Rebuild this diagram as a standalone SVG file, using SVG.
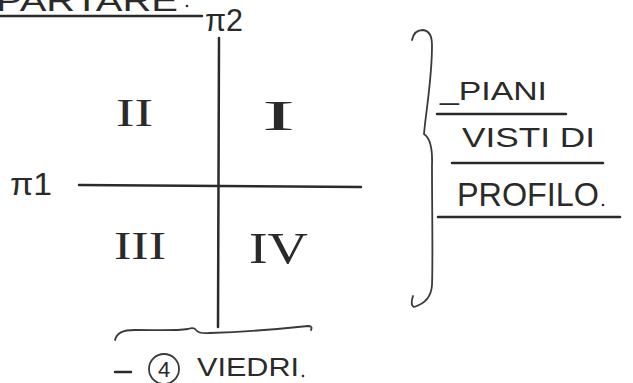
<svg xmlns="http://www.w3.org/2000/svg" width="633" height="383" viewBox="0 0 633 383">
<style>
.hand{font-family:"Liberation Sans","DejaVu Sans",sans-serif;fill:#2a2a2a;}
.rom{font-family:"Liberation Serif","DejaVu Serif",serif;fill:#2a2a2a;}
.ln{stroke:#2a2a2a;stroke-width:2.5;fill:none;stroke-linecap:round;}
.thin{stroke:#3a3a3a;stroke-width:1.8;fill:none;stroke-linecap:round;}
</style>
<rect width="633" height="383" fill="#fff"/>
<g id="title">
<text class="hand" x="-4" y="11" font-size="30" textLength="182" lengthAdjust="spacingAndGlyphs">PARTARE</text>
<circle cx="187" cy="6" r="1.3" fill="#2a2a2a"/>
<line class="ln" x1="0" y1="16" x2="202" y2="16"/>
</g>
<g id="pi2"><text class="hand" x="205" y="31" font-size="32" textLength="38" lengthAdjust="spacingAndGlyphs">π2</text></g>
<g id="pi1"><text class="hand" x="10" y="195" font-size="32" textLength="42" lengthAdjust="spacingAndGlyphs">π1</text></g>
<g id="axes">
<line class="ln" x1="219" y1="38" x2="218" y2="327"/>
<line class="ln" x1="79" y1="185" x2="361" y2="187"/>
</g>
<g id="q2"><text class="rom" x="116" y="126" font-size="41" textLength="37" lengthAdjust="spacingAndGlyphs">II</text></g>
<g id="q1"><text class="rom" x="262" y="130" font-size="42" textLength="33" lengthAdjust="spacingAndGlyphs">I</text></g>
<g id="q3"><text class="rom" x="114" y="259" font-size="40" textLength="52" lengthAdjust="spacingAndGlyphs">III</text></g>
<g id="q4"><text class="rom" x="249" y="263" font-size="45" textLength="59" lengthAdjust="spacingAndGlyphs">IV</text></g>
<g id="bracebottom">
<path class="thin" d="M115 340 C117 333 122 330 135 330 C160 330 175 331 188 329 Q194 327 196 330 Q199 334 210 333 C240 332 280 329 308 326 Q313 326 311 330"/>
</g>
<g id="diedri">
<line class="ln" x1="115" y1="372" x2="131" y2="372"/>
<circle class="thin" cx="164" cy="369" r="15"/>
<text class="hand" x="164" y="377" font-size="22" text-anchor="middle">4</text>
<text class="hand" x="197" y="376" font-size="25" textLength="102" lengthAdjust="spacingAndGlyphs">VIEDRI</text>
<circle cx="303" cy="376" r="1.3" fill="#2a2a2a"/>
</g>
<g id="braceright">
<path class="thin" d="M412 40 Q414 30 423 30 Q432 31 432 45 C432 80 426 110 424 134 Q433 140 432 165 C432 210 433 260 432 285 Q431 302 414 307 Q410 305 413 296"/>
</g>
<g id="piani">
<text class="hand" x="440" y="100" font-size="25" textLength="107" lengthAdjust="spacingAndGlyphs">_PIANI</text>
<line class="ln" x1="437" y1="114" x2="566" y2="114"/>
</g>
<g id="visti">
<text class="hand" x="462" y="147" font-size="28" textLength="133" lengthAdjust="spacingAndGlyphs">VISTI DI</text>
<line class="ln" x1="452" y1="163" x2="603" y2="163"/>
</g>
<g id="profilo">
<text class="hand" x="457" y="206" font-size="34" textLength="142" lengthAdjust="spacingAndGlyphs">PROFILO</text>
<circle cx="603" cy="205" r="1.3" fill="#2a2a2a"/>
<line class="ln" x1="438" y1="217" x2="620" y2="217"/>
</g>
</svg>
